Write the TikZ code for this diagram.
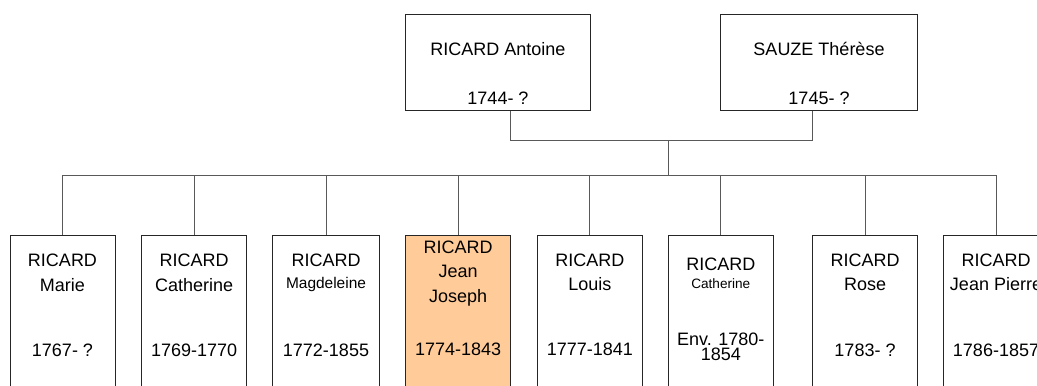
\documentclass[tikz,border=0pt]{standalone}
\usepackage{fontspec}
\setmainfont{Liberation Sans}
\usetikzlibrary{calc}
\definecolor{focus}{RGB}{255,204,153}

\begin{document}
\begin{tikzpicture}[x=0.75pt,y=-0.75pt,
  person/.style={draw=black!85,line width=0.75pt,inner sep=0pt,
    minimum width=78.75pt,minimum height=120pt},
  parent/.style={person,minimum height=72.3pt},
  link/.style={draw=black!65,line width=0.75pt},
  txt/.style={anchor=base,inner sep=0pt,font=\fontsize{13.5pt}{15pt}\selectfont},
  small/.style={txt,font=\fontsize{11.6pt}{13pt}\selectfont},
  tiny/.style={txt,font=\fontsize{10.2pt}{12pt}\selectfont}]
\useasboundingbox (0,0) rectangle (1037,385);
\clip (0,0) rectangle (1037,385);

% Parents.
\node[parent,minimum width=138.2pt] (ant) at (498,62.5) {};
\node[parent,minimum width=147.5pt] (the) at (819,62.5) {};
\node[txt] (antN) at (498,55.5) {RICARD Antoine};
\node[txt] (antD) at (498,104.5) {1744- ?};
\node[txt] (theN) at (819,55.5) {SAUZE Thérèse};
\node[txt] (theD) at (819,104.5) {1745- ?};

% Children.
\node[person] (c1) at (62.5,315) {};
\node[person] (c2) at (194.2,315) {};
\node[person,minimum width=80pt] (c3) at (326,315) {};
\node[person,fill=focus] (c4) at (458.2,315) {};
\node[person] (c5) at (589.8,315) {};
\node[person] (c6) at (720.8,315) {};
\node[person] (c7) at (865,315) {};
\node[person] (c8) at (996,315) {};

\node[txt] (c1a) at (62.5,266) {RICARD};
\node[txt] (c1b) at (62.5,291) {Marie};
\node[txt] (c1c) at (62.5,356) {1767- ?};

\node[txt] (c2a) at (194.2,266) {RICARD};
\node[txt] (c2b) at (194.2,291) {Catherine};
\node[txt] (c2c) at (194.2,356) {1769-1770};

\node[txt] (c3a) at (326,266) {RICARD};
\node[small] (c3b) at (326,288.3) {Magdeleine};
\node[txt] (c3c) at (326,356) {1772-1855};

\node[txt] (c4a) at (458.2,253.3) {RICARD};
\node[txt] (c4b) at (458.2,277.3) {Jean};
\node[txt] (c4c) at (458.2,302.3) {Joseph};
\node[txt] (c4d) at (458.2,355.5) {1774-1843};

\node[txt] (c5a) at (589.8,266) {RICARD};
\node[txt] (c5b) at (589.8,290.5) {Louis};
\node[txt] (c5c) at (589.8,355.5) {1777-1841};

\node[txt] (c6a) at (720.8,270) {RICARD};
\node[tiny] (c6b) at (720.8,288.3) {Catherine};
\node[txt] (c6c) at (720.8,345) {Env. 1780-};
\node[txt] (c6d) at (720.8,360) {1854};

\node[txt] (c7a) at (865,266) {RICARD};
\node[txt] (c7b) at (865,290.7) {Rose};
\node[txt] (c7c) at (865,356) {1783- ?};

\node[txt] (c8a) at (996,266) {RICARD};
\node[txt] (c8b) at (996,290.7) {Jean Pierre};
\node[txt] (c8c) at (996,356) {1786-1857};

% Define the links.
\coordinate (couple) at (668.3,140.3);
\coordinate (sibs) at (668.3,175.3);
\draw[link] ($(ant.south)+(12.7,0)$) |- (couple) -| ($(the.south)+(-7,0)$);
\draw[link] (couple) -- (sibs);
\draw[link] (c1.north) |- (sibs) -| (c8.north);
\foreach \c in {c2,c3,c4,c5,c6,c7}
  \draw[link] (\c.north) -- (\c.north |- sibs);

\end{tikzpicture}
\end{document}
